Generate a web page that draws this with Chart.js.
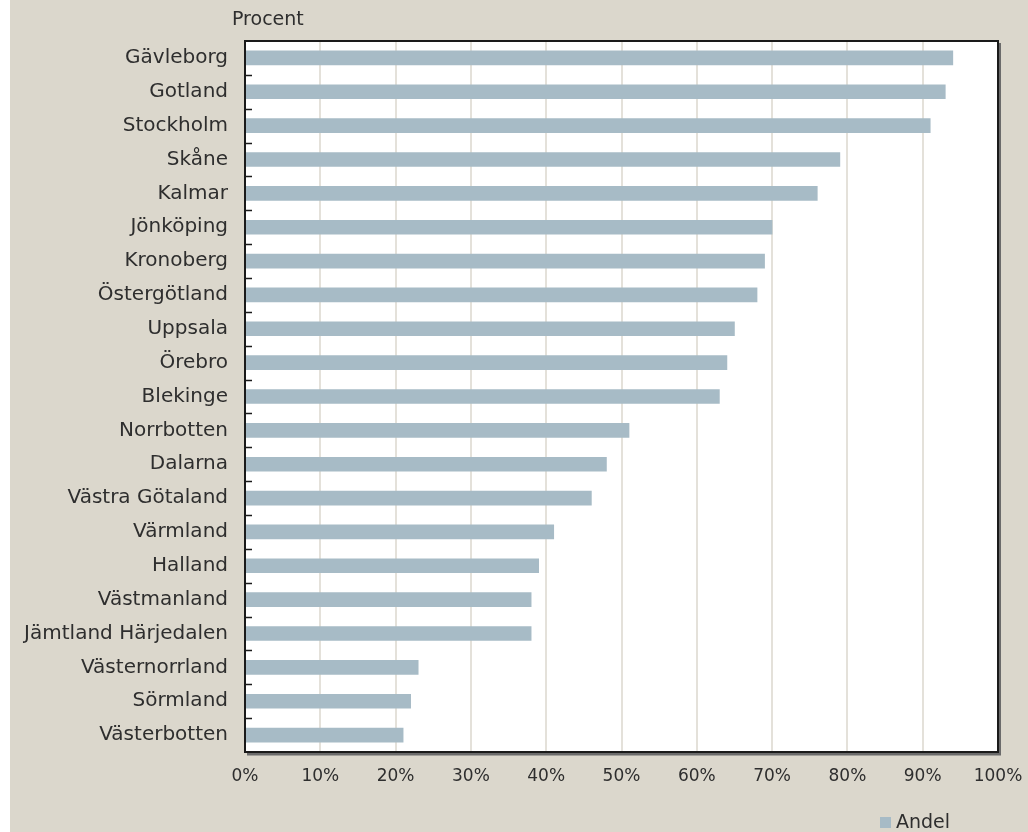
<!DOCTYPE html>
<html>
<head>
<meta charset="utf-8">
<script src="https://cdn.jsdelivr.net/npm/chart.js@4"></script>
<style>
  html, body { margin: 0; padding: 0; }
  body { width: 1028px; height: 832px; overflow: hidden;
         background: linear-gradient(to right, #ffffff 0, #ffffff 10px, #dbd7cc 10px); }
  canvas { display: block; }
</style>
</head>
<body>
<canvas id="chart" width="1028" height="832"></canvas>
<script>
const regions = ['Gävleborg', 'Gotland', 'Stockholm', 'Skåne', 'Kalmar', 'Jönköping', 'Kronoberg',
    'Östergötland', 'Uppsala', 'Örebro', 'Blekinge', 'Norrbotten', 'Dalarna', 'Västra Götaland',
    'Värmland', 'Halland', 'Västmanland', 'Jämtland Härjedalen', 'Västernorrland', 'Sörmland', 'Västerbotten'];
const andel = [94, 93, 91, 79, 76, 70, 69, 68, 65, 64, 63, 51, 48, 46, 41, 39, 38, 38, 23, 22, 21];
const seriesName = 'Andel';
const axisTitle = 'Procent';

const FONT = '"DejaVu Sans", sans-serif';
const TEXT = '#2e2e2e';
const BAR = '#a7bbc6';

// white plot area, frame and the little inner ticks between categories
const frame = {
    id: 'frame',
    beforeDraw(chart) {
        const {ctx, chartArea: a} = chart;
        ctx.save();
        ctx.fillStyle = '#ffffff';
        ctx.fillRect(a.left, a.top, a.right - a.left, a.bottom - a.top);
        ctx.restore();
    },
    afterDraw(chart) {
        const {ctx, chartArea: a} = chart;
        ctx.save();
        ctx.strokeStyle = '#6b6b6b';
        ctx.lineWidth = 3;
        ctx.beginPath();
        ctx.moveTo(a.right + 1.5, a.top + 2);
        ctx.lineTo(a.right + 1.5, a.bottom + 2);
        ctx.lineTo(a.left + 2, a.bottom + 2);
        ctx.stroke();
        ctx.strokeStyle = '#1a1a1a';
        ctx.lineWidth = 2;
        ctx.strokeRect(a.left, a.top, a.right - a.left, a.bottom - a.top);
        ctx.lineWidth = 1.5;
        const step = (a.bottom - a.top) / regions.length;
        for (let i = 1; i < regions.length; i++) {
            const py = Math.round(a.top + i * step) + 0.5;
            ctx.beginPath();
            ctx.moveTo(a.left, py);
            ctx.lineTo(a.left + 7, py);
            ctx.stroke();
        }
        // axis title
        ctx.fillStyle = TEXT;
        ctx.font = '19px ' + FONT;
        ctx.textBaseline = 'middle';
        ctx.textAlign = 'left';
        ctx.fillText(axisTitle, 232, 20);
        // legend
        ctx.fillStyle = BAR;
        ctx.fillRect(880, 817, 11, 11);
        ctx.fillStyle = TEXT;
        ctx.fillText(chart.data.datasets[0].label, 896, 823);
        ctx.restore();
    }
};

new Chart(document.getElementById('chart'), {
    type: 'bar',
    data: {
        labels: regions,
        datasets: [{
            label: seriesName,
            data: andel,
            backgroundColor: BAR,
            barThickness: 14,
            borderWidth: 0
        }]
    },
    options: {
        indexAxis: 'y',
        responsive: false,
        animation: false,
        layout: {padding: {top: 41, right: 30, bottom: 40, left: 0}},
        plugins: {
            legend: {display: false},
            tooltip: {enabled: false}
        },
        scales: {
            x: {
                min: 0,
                max: 100,
                ticks: {
                    stepSize: 10,
                    callback: v => v + '%',
                    color: TEXT,
                    font: {family: FONT, size: 17},
                    padding: 14
                },
                grid: {color: '#e4e1da', lineWidth: 2, drawTicks: false},
                border: {display: false},
                afterFit: s => { s.height = 40; s.paddingLeft = 0; s.paddingRight = 0; }
            },
            y: {
                ticks: {
                    color: TEXT,
                    font: {family: FONT, size: 20},
                    padding: 17,
                    autoSkip: false
                },
                grid: {display: false, drawTicks: false},
                border: {display: false},
                afterFit: s => { s.width = 245; }
            }
        }
    },
    plugins: [frame]
});
</script>
</body>
</html>
